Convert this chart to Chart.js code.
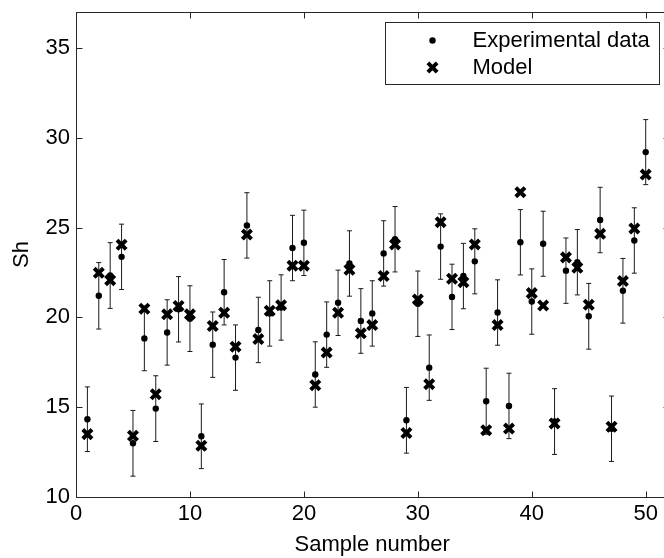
<!DOCTYPE html>
<html>
<head>
<meta charset="utf-8">
<script src="https://cdn.jsdelivr.net/npm/chart.js@4"></script>
<style>
  html, body { margin: 0; padding: 0; background: #fff; overflow: hidden; width: 664px; height: 558px; }
  #wrap { width: 680px; height: 558px; }
</style>
</head>
<body>
<div id="wrap"><canvas id="c" width="680" height="558"></canvas></div>
<script>
// ---- data ----
const sampleNumbers = [1,2,3,4,5,6,7,8,9,10,11,12,13,14,15,16,17,18,19,20,21,22,23,24,25,26,27,28,29,30,31,32,33,34,35,36,37,38,39,40,41,42,43,44,45,46,47,48,49,50];
const experimentalSh = [14.33,21.20,22.33,23.37,12.99,18.83,14.92,19.16,20.45,19.93,
                        13.38,18.48,21.40,17.76,25.12,19.30,20.22,20.55,23.86,24.15,
                        16.82,19.04,20.81,23.00,19.80,20.22,23.56,24.35,14.27,20.76,
                        17.20,23.94,21.14,22.30,23.12,15.33,20.27,15.07,24.18,20.88,
                        24.10,14.20,22.60,23.07,20.06,25.42,13.80,21.48,24.28,29.20];
const modelSh = [13.50,22.48,22.07,24.04,13.41,20.48,15.72,20.17,20.63,20.17,
                 12.85,19.52,20.26,18.37,24.61,18.79,20.37,20.68,22.88,22.88,
                 16.22,18.04,20.26,22.65,19.11,19.57,22.30,24.06,13.56,21.00,
                 16.28,25.30,22.15,21.96,24.06,13.72,19.57,13.81,26.97,21.35,
                 20.66,14.09,23.34,22.76,20.70,24.65,13.91,22.02,24.95,27.95];
const experimentalError = [1.80,1.85,1.83,1.82,1.83,1.80,1.83,1.82,1.82,1.83,
                           1.80,1.82,1.82,1.82,1.82,1.82,1.82,1.82,1.82,1.82,
                           1.82,1.82,1.82,1.82,1.80,1.82,1.82,1.82,1.83,1.82,
                           1.82,1.82,1.82,1.82,1.81,1.84,1.82,1.82,1.82,1.82,
                           1.81,1.83,1.82,1.82,1.83,1.82,1.82,1.80,1.82,1.81];
const xTickValues = [0,10,20,30,40,50];
const yTickValues = [10,15,20,25,30,35];
const xLabel = 'Sample number';
const yLabel = 'Sh';
const seriesNames = ['Experimental data', 'Model'];

// ---- build datasets ----
const capHalf = 0.22;
const errorBarPoints = [];
sampleNumbers.forEach((n, i) => {
  const v = experimentalSh[i], e = experimentalError[i];
  errorBarPoints.push({x:n, y:v-e}, {x:n, y:v+e}, {x:n, y:null});
  errorBarPoints.push({x:n-capHalf, y:v+e}, {x:n+capHalf, y:v+e}, {x:n, y:null});
  errorBarPoints.push({x:n-capHalf, y:v-e}, {x:n+capHalf, y:v-e}, {x:n, y:null});
});

const FONT = "'Liberation Sans', Arial, sans-serif";
const AXIS_COLOR = '#262626';

const framePlugin = {
  id: 'frame',
  afterDraw(chart) {
    const {ctx, chartArea: a, scales} = chart;
    ctx.save();
    ctx.strokeStyle = AXIS_COLOR;
    ctx.lineWidth = 1;
    const L = Math.round(a.left) + 0.5, R = Math.round(a.right) + 0.5;
    const T = Math.round(a.top) + 0.5, B = Math.round(a.bottom) + 0.5;
    ctx.beginPath();
    ctx.rect(L, T, R - L, B - T);
    ctx.stroke();
    const tl = 6;
    ctx.beginPath();
    xTickValues.forEach(v => {
      const px = Math.round(scales.x.getPixelForValue(v)) + 0.5;
      ctx.moveTo(px, B); ctx.lineTo(px, B - tl);
      ctx.moveTo(px, T); ctx.lineTo(px, T + tl);
    });
    yTickValues.forEach(v => {
      const py = Math.round(scales.y.getPixelForValue(v)) + 0.5;
      ctx.moveTo(L, py); ctx.lineTo(L + tl, py);
      ctx.moveTo(R, py); ctx.lineTo(R - tl, py);
    });
    ctx.stroke();

    // legend box
    const boxW = 274, boxH = 62;
    const bx = Math.round(a.right - 10 - boxW) + 0.5, by = Math.round(a.top + 10) + 0.5;
    ctx.fillStyle = '#fff';
    ctx.fillRect(bx, by, boxW, boxH);
    ctx.strokeStyle = AXIS_COLOR;
    ctx.strokeRect(bx, by, boxW, boxH);
    const mx = bx + 47;
    const rows = [by + 18, by + 45];
    ctx.fillStyle = '#000';
    ctx.beginPath();
    ctx.arc(mx, rows[0], 3.2, 0, Math.PI * 2);
    ctx.fill();
    const m = chart.getDatasetMeta(0);
    const opts = m.data.length ? m.data[0].options : null;
    const r = opts ? opts.radius : 6.5;
    const off = Math.cos(Math.PI / 4) * r;
    ctx.lineWidth = opts ? opts.borderWidth : 4;
    ctx.strokeStyle = '#000';
    ctx.beginPath();
    ctx.moveTo(mx - off, rows[1] - off); ctx.lineTo(mx + off, rows[1] + off);
    ctx.moveTo(mx - off, rows[1] + off); ctx.lineTo(mx + off, rows[1] - off);
    ctx.stroke();
    ctx.fillStyle = '#000';
    ctx.font = '22px ' + FONT;
    ctx.textBaseline = 'middle';
    ctx.textAlign = 'left';
    ctx.fillText(seriesNames[0], bx + 87, rows[0]);
    ctx.fillText(seriesNames[1], bx + 87, rows[1]);
    ctx.restore();
  }
};

new Chart(document.getElementById('c'), {
  type: 'scatter',
  data: {
    datasets: [
      {
        label: seriesNames[1],
        data: sampleNumbers.map((n, i) => ({x: n, y: modelSh[i]})),
        pointStyle: 'crossRot',
        pointRadius: 6.5,
        borderWidth: 4,
        borderColor: '#000',
        backgroundColor: '#000'
      },
      {
        label: seriesNames[0],
        data: sampleNumbers.map((n, i) => ({x: n, y: experimentalSh[i]})),
        pointStyle: 'circle',
        pointRadius: 3.2,
        borderWidth: 0,
        borderColor: '#000',
        backgroundColor: '#000'
      },
      {
        label: 'error',
        data: errorBarPoints,
        showLine: true,
        spanGaps: false,
        pointRadius: 0,
        borderWidth: 1,
        borderColor: '#1a1a1a'
      }
    ]
  },
  options: {
    responsive: false,
    animation: false,
    events: [],
    layout: { padding: { left: 0, top: 12, right: 11.5, bottom: 0 } },
    plugins: { legend: { display: false }, tooltip: { enabled: false } },
    scales: {
      x: {
        type: 'linear',
        min: 0, max: 52,
        afterFit(s) { s.height = 61; s.paddingLeft = 0; s.paddingRight = 0; },
        afterBuildTicks(s) { s.ticks = xTickValues.map(v => ({value: v})); },
        grid: { display: false, drawTicks: false },
        border: { display: false },
        ticks: { color: '#000', font: { family: FONT, size: 22 }, padding: 4, maxRotation: 0, autoSkip: false },
        title: { display: true, text: xLabel, color: '#000', font: { family: FONT, size: 22 }, padding: { top: 0, bottom: 0 } }
      },
      y: {
        type: 'linear',
        min: 10, max: 37,
        afterFit(s) { s.width = 76; s.paddingTop = 0; s.paddingBottom = 0; },
        afterBuildTicks(s) { s.ticks = yTickValues.map(v => ({value: v})); },
        grid: { display: false, drawTicks: false },
        border: { display: false },
        ticks: { color: '#000', font: { family: FONT, size: 22 }, padding: 6, autoSkip: false },
        title: { display: true, text: yLabel, color: '#000', font: { family: FONT, size: 22 }, padding: { top: 9, bottom: 0 } }
      }
    }
  },
  plugins: [framePlugin]
});
</script>
</body>
</html>
